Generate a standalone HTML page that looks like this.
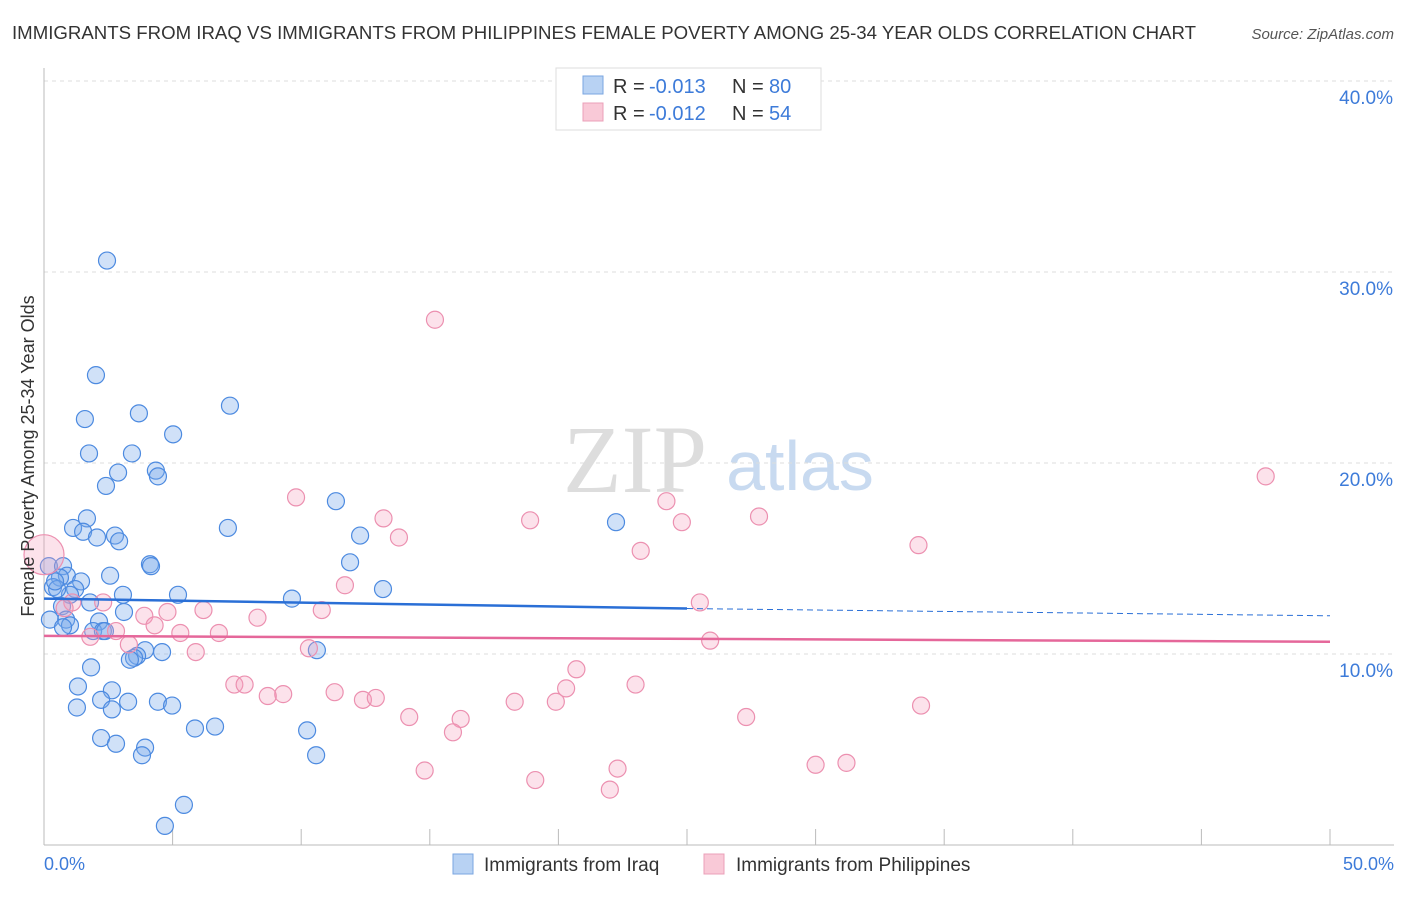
<!DOCTYPE html>
<html><head><meta charset="utf-8"><style>
body{margin:0;background:#fff;font-family:"Liberation Sans",sans-serif;}
</style></head><body>
<svg width="1406" height="892" xmlns="http://www.w3.org/2000/svg" font-family="Liberation Sans, sans-serif">
<text x="12" y="39" font-size="18" fill="#333" textLength="1184" lengthAdjust="spacingAndGlyphs">IMMIGRANTS FROM IRAQ VS IMMIGRANTS FROM PHILIPPINES FEMALE POVERTY AMONG 25-34 YEAR OLDS CORRELATION CHART</text>
<text x="1394" y="39" font-size="15" font-style="italic" fill="#555" text-anchor="end">Source: ZipAtlas.com</text>
<text x="635" y="492" font-size="96" fill="#ddd" font-family="Liberation Serif, serif" text-anchor="middle">ZIP</text>
<text x="800" y="490" font-size="70" fill="#c8daf0" text-anchor="middle">atlas</text>
<g id="grid"></g><g id="axes"></g><g id="pts"></g><g id="trend"></g>
<text transform="translate(34,456) rotate(-90)" font-size="18" fill="#333" text-anchor="middle">Female Poverty Among 25-34 Year Olds</text>
<text x="44" y="870" font-size="18" fill="#3d7bd9">0.0%</text>
<text x="1394" y="870" font-size="18" fill="#3d7bd9" text-anchor="end">50.0%</text>
<g>
<rect x="556" y="68" width="265" height="62" fill="#fff" stroke="#ddd"/>
<rect x="583" y="76" width="20" height="18" fill="#b8d2f3" stroke="#7aa6e0"/>
<rect x="583" y="103" width="20" height="18" fill="#f9c9d7" stroke="#eba0b8"/>
<text x="613" y="93" font-size="20" fill="#333">R =</text><text x="649" y="93" font-size="20" fill="#3d7bd9">-0.013</text>
<text x="732" y="93" font-size="20" fill="#333">N =</text><text x="769" y="93" font-size="20" fill="#3d7bd9">80</text>
<text x="613" y="120" font-size="20" fill="#333">R =</text><text x="649" y="120" font-size="20" fill="#3d7bd9">-0.012</text>
<text x="732" y="120" font-size="20" fill="#333">N =</text><text x="769" y="120" font-size="20" fill="#3d7bd9">54</text>
</g>
<g>
<rect x="453" y="854" width="20" height="20" fill="#b8d2f3" stroke="#7aa6e0"/>
<text x="484" y="871" font-size="19" fill="#333">Immigrants from Iraq</text>
<rect x="704" y="854" width="20" height="20" fill="#f9c9d7" stroke="#eba0b8"/>
<text x="736" y="871" font-size="19" fill="#333">Immigrants from Philippines</text>
</g>
</svg>
<script>
const yTicks=[10,20,30,40];
const xTickVals=[0,5,10,15,20,25,30,35,40,45,50];
const iraqX=[2.45,2.02,1.59,3.69,7.23,1.75,5.02,3.42,4.35,4.43,2.88,2.41,11.35,22.24,1.13,1.67,1.52,2.06,2.76,2.92,7.15,12.29,11.9,4.12,4.16,2.57,0.19,0.74,0.89,0.62,0.35,1.44,1.21,1.01,0.51,0.43,5.21,3.07,13.18,9.64,1.79,0.70,3.11,0.86,0.23,1.01,0.74,2.14,1.91,2.29,2.37,10.61,4.59,3.93,3.62,3.50,3.34,1.83,1.32,2.64,2.22,3.27,4.43,4.98,1.28,2.64,5.87,6.65,10.23,2.22,2.80,3.93,3.81,10.58,5.44,4.70];
const iraqY=[30.6,24.6,22.3,22.6,23.0,20.5,21.5,20.5,19.6,19.3,19.5,18.8,18.0,16.9,16.6,17.1,16.4,16.1,16.2,15.9,16.6,16.2,14.8,14.7,14.6,14.1,14.6,14.6,14.1,14.0,13.5,13.8,13.4,13.1,13.4,13.8,13.1,13.1,13.4,12.9,12.7,12.5,12.2,11.8,11.8,11.5,11.4,11.7,11.2,11.2,11.2,10.2,10.1,10.2,9.9,9.8,9.7,9.3,8.3,8.1,7.6,7.5,7.5,7.3,7.2,7.1,6.1,6.2,6.0,5.6,5.3,5.1,4.7,4.7,2.1,1.0];
const philX=[0,15.2,47.5,9.8,13.2,13.8,18.9,24.2,24.8,27.8,34.0,23.2,11.7,10.8,6.2,8.3,4.8,3.9,4.3,5.3,6.8,2.8,1.8,2.3,1.1,0.8,3.3,5.9,10.3,25.5,25.9,20.7,7.4,7.8,9.3,8.7,11.3,12.4,12.9,14.2,16.2,15.9,18.3,19.9,20.3,23.0,27.3,34.1,14.8,19.1,22.3,22.0,30.0,31.2];
const philY=[15.2,27.5,19.3,18.2,17.1,16.1,17.0,18.0,16.9,17.2,15.7,15.4,13.6,12.3,12.3,11.9,12.2,12.0,11.5,11.1,11.1,11.2,10.9,12.7,12.7,12.4,10.5,10.1,10.3,12.7,10.7,9.2,8.4,8.4,7.9,7.8,8.0,7.6,7.7,6.7,6.6,5.9,7.5,7.5,8.2,8.4,6.7,7.3,3.9,3.4,4.0,2.9,4.2,4.3];
const X0=44,X1=1330,Y0=845,PX=191/10;
const sx=v=>X0+(v/50)*(X1-X0), sy=v=>Y0-v*PX;
const NS="http://www.w3.org/2000/svg";
function mk(t,a,p){const e=document.createElementNS(NS,t);for(const k in a)e.setAttribute(k,a[k]);document.getElementById(p).appendChild(e);return e;}
yTicks.forEach(v=>{
 const l=mk('line',{x1:44,x2:1394,y1:sy(v),y2:sy(v),stroke:'#ddd','stroke-dasharray':'4,4'},'grid');
 
 
 const t=mk('text',{x:1393,y:sy(v)+23,'font-size':19,fill:'#3d7bd9','text-anchor':'end'},'grid');
 t.textContent=v.toFixed(1)+'%';
 
 
});
const ax=mk('line',{x1:44,x2:44,y1:68,y2:845,stroke:'#bbb'},'axes');


const bx=mk('line',{x1:44,x2:1394,y1:845,y2:845,stroke:'#bbb'},'axes');


xTickVals.forEach(v=>{const t=mk('line',{x1:sx(v),x2:sx(v),y1:829,y2:845,stroke:'#bbb'},'axes');
 
 });
iraqX.forEach((v,i)=>{const c=mk('circle',{cx:sx(v),cy:sy(iraqY[i]),r:8.5,fill:'rgba(120,170,235,0.35)',stroke:'#4c8ae0','stroke-width':1.2},'pts');
 
 });
philX.forEach((v,i)=>{const c=mk('circle',{cx:sx(v),cy:sy(philY[i]),r:i==0?20:8.5,fill:'rgba(245,160,190,0.3)',stroke:'#ec90b0','stroke-width':1.2},'pts');
 
 });
const iraqTrend=[12.90,12.38,12.0], philTrend=[10.95,10.64];
let l1=mk('line',{x1:sx(0),y1:sy(iraqTrend[0]),x2:sx(25),y2:sy(iraqTrend[1]),stroke:'#2a6fd6','stroke-width':2.5},'trend');


let l2=mk('line',{x1:sx(25),y1:sy(iraqTrend[1]),x2:sx(50),y2:sy(iraqTrend[2]),stroke:'#2a6fd6','stroke-width':1,'stroke-dasharray':'6,4'},'trend');


let l3=mk('line',{x1:sx(0),y1:sy(philTrend[0]),x2:sx(50),y2:sy(philTrend[1]),stroke:'#e5679a','stroke-width':2.5},'trend');


</script>
</body></html>
